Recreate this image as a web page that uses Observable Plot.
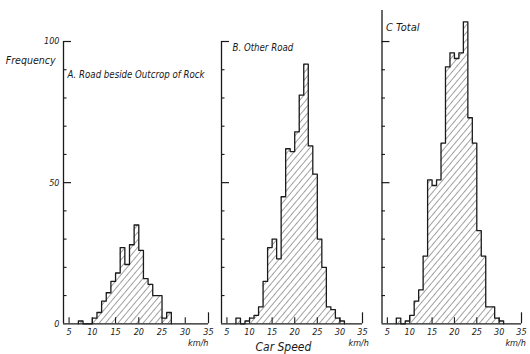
<!DOCTYPE html>
<html><head><meta charset="utf-8">
<script src="https://cdn.jsdelivr.net/npm/d3@7"></script>
<script src="https://cdn.jsdelivr.net/npm/@observablehq/plot@0.6"></script>
<style>
body{margin:0;background:#fff;}
#wrap{position:relative;width:530px;height:354px;overflow:hidden;background:#fff;}
#wrap svg{position:absolute;top:0;}
</style></head><body><div id="wrap"></div>
<script>
// ---- data (bin start in km/h, 1 km/h bins) ----
const speedA = [7,10,11,12,13,14,15,16,17,18,19,20,21,22,23,24,25,26];
const countA = [1,2,4,8,11,15,18,27,21,28,35,26,16,14,10,10,2,4];
const speedB = [7,9,10,11,12,13,14,15,16,17,18,19,20,21,22,23,24,25,26,27,28,29,30];
const countB = [2,1,2,3,6,15,27,30,23,45,62,61,68,81,92,63,53,30,20,6,5,2,1];
const speedC = [7,9,10,11,12,13,14,15,16,17,18,19,20,21,22,23,24,25,26,27,28,29,30];
const countC = [2,1,3,8,12,24,51,49,51,64,91,96,94,96,107,73,64,33,24,6,6,2,1];
const xTicks = [5,10,15,20,25,30,35];
const yMinor = [10,20,30,40,60,70,80,90];
const yMajor = [50,100];
const yLabels = [0,50,100];
const titles = ["A. Road beside Outcrop of Rock","B. Other Road","C Total"];
const unitLabel = "km/h";
const yTitle = "Frequency";
const xTitle = "Car Speed";

const FONT = "'Liberation Sans Narrow','DejaVu Sans Condensed','Liberation Sans',sans-serif";
const XMIN = 3.8, XMAX = 35;
const INK = "#1a1a1a";

function binsOf(s, c){ return s.map((v,i)=>({x1:v, x2:v+1, y:c[i]})); }
function outlineOf(s, c){
  const pts=[];
  for(let i=0;i<s.length;i++){
    const v=s[i];
    if(i===0 || s[i-1]!==v-1) pts.push({x:v,y:0});
    pts.push({x:v,y:c[i]}); pts.push({x:v+1,y:c[i]});
    if(i===s.length-1 || s[i+1]!==v+1) pts.push({x:v+1,y:0});
  }
  return pts;
}

function panel(cfg){
  const {id, speeds, counts, title, left, width, ml, mr, yMax, mt, titleDx, titleY, titleSize, kmX, extra=[]} = cfg;
  const innerW = width - ml - mr;
  const ux = (XMAX-XMIN)/innerW;           // data units per px (x)
  const uy = yMax/(323.3-mt);              // data units per px (y)
  const svg = Plot.plot({
    width, height:354, marginLeft:ml, marginRight:mr, marginTop:mt, marginBottom:30.7,
    style:{background:"none", overflow:"visible"},
    x:{domain:[XMIN,XMAX], axis:null},
    y:{domain:[0,yMax], axis:null},
    marks:[
      Plot.rectY(binsOf(speeds,counts), {x1:"x1", x2:"x2", y:"y", fill:`url(#hatch${id})`}),
      Plot.ruleX([XMIN], {y1:0, y2:yMax, stroke:INK, strokeWidth:1.3}),
      Plot.ruleY([0], {x1:XMIN, x2:XMAX, stroke:INK, strokeWidth:1.3}),
      Plot.ruleY(yMinor, {y:d=>d, x1:XMIN, x2:XMIN+3.5*ux, stroke:INK, strokeWidth:1.1}),
      Plot.ruleY(yMajor, {y:d=>d, x1:XMIN, x2:XMIN+8*ux, stroke:INK, strokeWidth:1.2}),
      Plot.ruleX(xTicks.filter(d=>d<35), {x:d=>d, y1:0, y2:6*uy, stroke:INK, strokeWidth:1.1}),
      Plot.ruleX([35], {x:d=>d, y1:0, y2:11*uy, stroke:INK, strokeWidth:1.2}),
      Plot.line(outlineOf(speeds,counts), {x:"x", y:"y", stroke:INK, strokeWidth:1.3, curve:"linear"}),
      Plot.text(xTicks, {x:d=>d, y:0, dy:8, text:d=>String(d), fontSize:9, fontStyle:"italic", fontFamily:FONT, fill:INK}),
      Plot.text([unitLabel], {x:kmX, y:0, dy:19.5, text:d=>d, textAnchor:"start", fontSize:9, fontStyle:"italic", fontFamily:FONT, fill:INK}),
      Plot.text([title], {x:XMIN, y:titleY, dx:titleDx, text:d=>d, textAnchor:"start", fontSize:titleSize, fontStyle:"italic", fontFamily:FONT, fill:INK}),
      ...extra
    ]
  });
  d3.select(svg).insert("defs", ":first-child").html(
    `<pattern id="hatch${id}" width="4.8" height="4.8" patternUnits="userSpaceOnUse" patternTransform="rotate(40)">`+
    `<line x1="0" y1="0" x2="0" y2="4.8" stroke="#222" stroke-width="0.85"/></pattern>`);
  svg.style.left = left + "px";
  document.getElementById("wrap").appendChild(svg);
}

panel({id:"A", speeds:speedA, counts:countA, title:titles[0], left:0, width:214, ml:63, mr:6,
  yMax:100, mt:41, titleDx:4, titleY:88, titleSize:9.6, kmX:30.6,
  extra:[
    Plot.text(yLabels, {x:XMIN, y:d=>d, dx:-4, text:d=>String(d), textAnchor:"end", fontSize:9, fontStyle:"italic", fontFamily:FONT, fill:INK}),
    Plot.text([yTitle], {x:XMIN, y:93.3, dx:-8, text:d=>d, textAnchor:"end", fontSize:10.5, fontStyle:"italic", fontFamily:FONT, fill:INK})
  ]});
panel({id:"B", speeds:speedB, counts:countB, title:titles[1], left:214, width:160, ml:7, mr:12,
  yMax:100, mt:41, titleDx:11, titleY:97.9, titleSize:9.6, kmX:31.9,
  extra:[
    Plot.text([xTitle], {x:17.5, y:0, dy:23.5, text:d=>d, fontSize:12, fontStyle:"italic", fontFamily:FONT, fill:INK})
  ]});
panel({id:"C", speeds:speedC, counts:countC, title:titles[2], left:374, width:156, ml:7.5, mr:9,
  yMax:111, mt:10, titleDx:4, titleY:105, titleSize:11, kmX:31.4});
</script></body></html>
